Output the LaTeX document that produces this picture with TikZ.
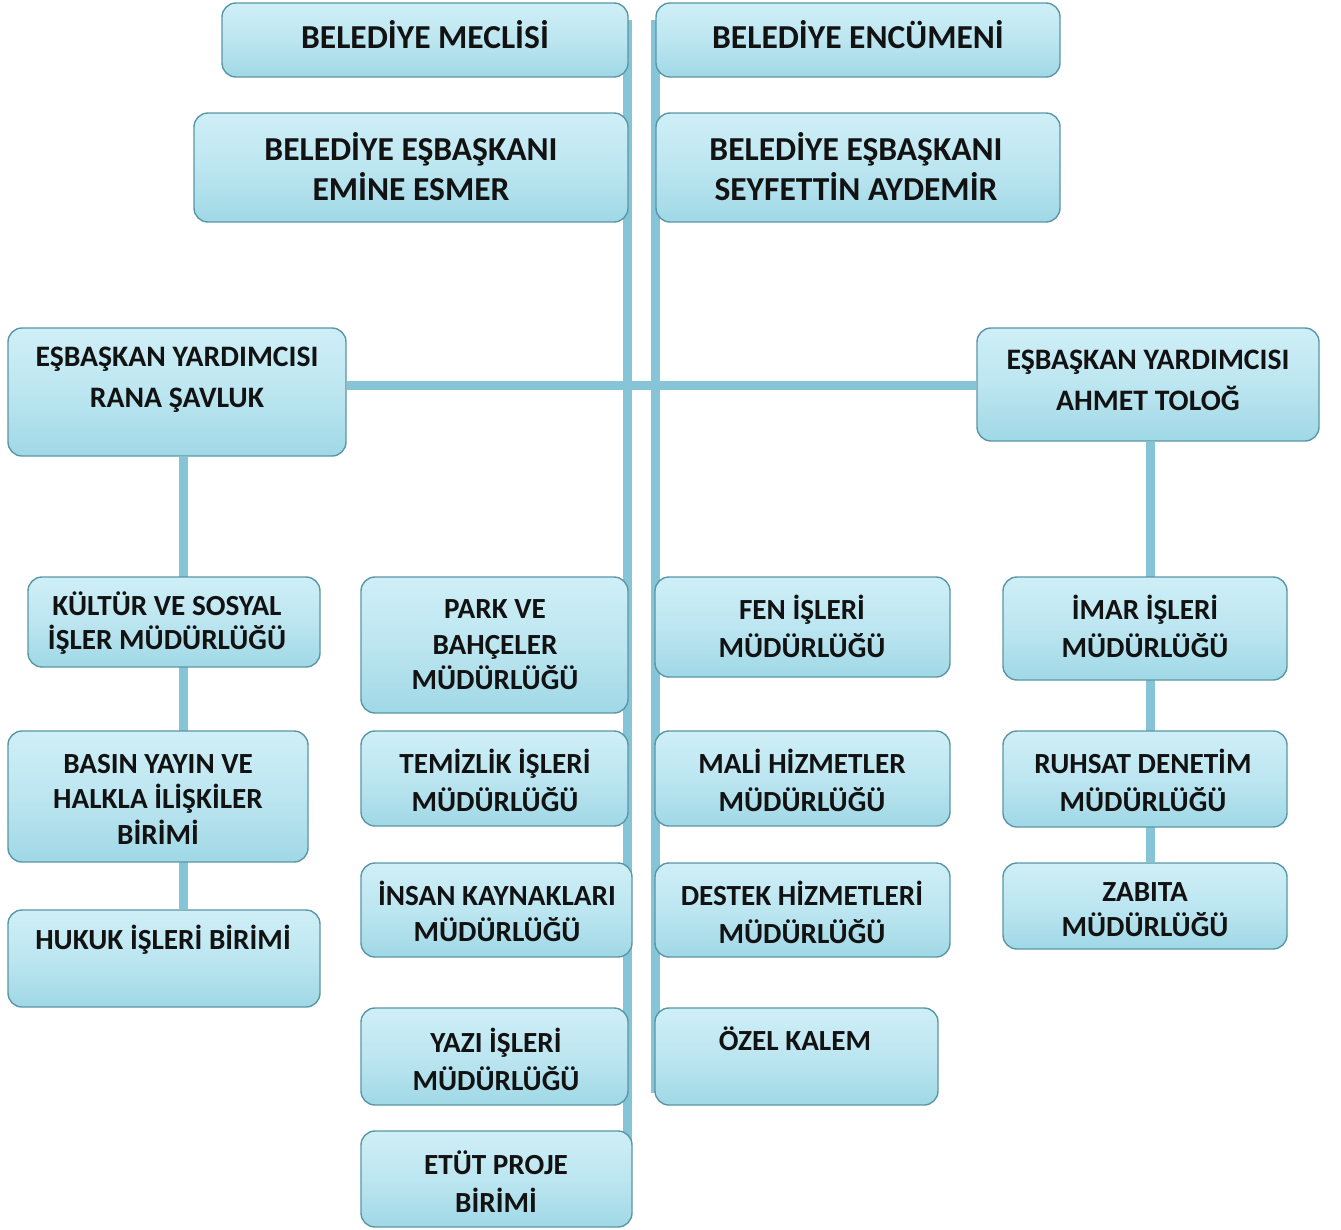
\documentclass[tikz,border=0pt]{standalone}
\usepackage{fontspec}
\setmainfont{Carlito}
\pgfdeclarelayer{bg}
\pgfsetlayers{bg,main}
\definecolor{linec}{HTML}{86C5D8}
\definecolor{boxtop}{HTML}{CFEFF7}
\definecolor{boxbot}{HTML}{A0D8E6}
\definecolor{boxedge}{HTML}{5A96A6}
\definecolor{txtc}{HTML}{121212}
\tikzset{
  box/.style={draw=boxedge, line width=1.4pt, rounded corners=14pt, top color=boxtop, bottom color=boxbot, middle color=boxtop!60!boxbot, inner sep=0pt},
  lbl/.style={text=txtc, align=center, inner sep=0pt, font=\fontsize{29.2}{38}\selectfont\bfseries},
  lblbig/.style={lbl, font=\fontsize{33.5}{40}\selectfont\bfseries},
  lblvp/.style={lbl, font=\fontsize{29.7}{41}\selectfont\bfseries},
  conn/.style={draw=linec, line width=9pt}
}
\begin{document}
\begin{tikzpicture}[x=1pt,y=-1pt]
\useasboundingbox (0,0) rectangle (1341,1229);
% boxes
\node[box, minimum width=406, minimum height=74] (meclis) at (425,40) {};
\node[box, minimum width=404, minimum height=74] (encumen) at (858,40) {};
\node[box, minimum width=434, minimum height=109] (emine) at (411,167.5) {};
\node[box, minimum width=404, minimum height=109] (seyfettin) at (858,167.5) {};
\node[box, minimum width=338, minimum height=128] (rana) at (177,392) {};
\node[box, minimum width=342, minimum height=113] (ahmet) at (1148,384.5) {};
\node[box, minimum width=292, minimum height=90] (kultur) at (174,622) {};
\node[box, minimum width=300, minimum height=131] (basin) at (158,796.5) {};
\node[box, minimum width=312, minimum height=97] (hukuk) at (164,958.5) {};
\node[box, minimum width=267, minimum height=136] (park) at (494.5,645) {};
\node[box, minimum width=267, minimum height=95] (temizlik) at (494.5,778.5) {};
\node[box, minimum width=271, minimum height=94] (insan) at (496.5,910) {};
\node[box, minimum width=267, minimum height=97] (yazi) at (494.5,1056.5) {};
\node[box, minimum width=271, minimum height=96] (etut) at (496.5,1179) {};
\node[box, minimum width=295, minimum height=100] (fen) at (802.5,627) {};
\node[box, minimum width=295, minimum height=95] (mali) at (802.5,778.5) {};
\node[box, minimum width=295, minimum height=94] (destek) at (802.5,910) {};
\node[box, minimum width=283, minimum height=97] (ozel) at (796.5,1056.5) {};
\node[box, minimum width=284, minimum height=103] (imar) at (1145,628.5) {};
\node[box, minimum width=284, minimum height=96] (ruhsat) at (1145,779) {};
\node[box, minimum width=284, minimum height=86] (zabita) at (1145,906) {};
% texts
\node[lblbig] (t-meclis) at (425,35) {BELEDİYE MECLİSİ};
\node[lblbig] (t-encumen) at (858,35) {BELEDİYE ENCÜMENİ};
\node[lblbig] (t-emine) at (411,167) {BELEDİYE EŞBAŞKANI\\EMİNE ESMER};
\node[lblbig] (t-seyfettin) at (856,167) {BELEDİYE EŞBAŞKANI\\SEYFETTİN AYDEMİR};
\node[lblvp] (t-rana) at (177,380) {EŞBAŞKAN YARDIMCISI\\RANA ŞAVLUK};
\node[lblvp] (t-ahmet) at (1148,380) {EŞBAŞKAN YARDIMCISI\\AHMET TOLOĞ};
\node[lbl, font=\fontsize{29.2}{34}\selectfont\bfseries] (t-kultur) at (167,623) {KÜLTÜR VE SOSYAL\\İŞLER MÜDÜRLÜĞÜ};
\node[lbl, font=\fontsize{29.2}{35.5}\selectfont\bfseries] (t-basin) at (158,799) {BASIN YAYIN VE\\HALKLA İLİŞKİLER\\BİRİMİ};
\node[lbl] (t-hukuk) at (163,940) {HUKUK İŞLERİ BİRİMİ};
\node[lbl, font=\fontsize{29.2}{35.5}\selectfont\bfseries] (t-park) at (495,645) {PARK VE\\BAHÇELER\\MÜDÜRLÜĞÜ};
\node[lbl] (t-temizlik) at (495,780) {TEMİZLİK İŞLERİ\\MÜDÜRLÜĞÜ};
\node[lbl, font=\fontsize{29.2}{36}\selectfont\bfseries] (t-insan) at (497,911) {İNSAN KAYNAKLARI\\MÜDÜRLÜĞÜ};
\node[lbl] (t-yazi) at (496,1059) {YAZI İŞLERİ\\MÜDÜRLÜĞÜ};
\node[lbl] (t-etut) at (496,1182) {ETÜT PROJE\\BİRİMİ};
\node[lbl] (t-fen) at (802,626) {FEN İŞLERİ\\MÜDÜRLÜĞÜ};
\node[lbl] (t-mali) at (802,780) {MALİ HİZMETLER\\MÜDÜRLÜĞÜ};
\node[lbl] (t-destek) at (802,912) {DESTEK HİZMETLERİ\\MÜDÜRLÜĞÜ};
\node[lbl] (t-ozel) at (795,1039) {ÖZEL KALEM};
\node[lbl] (t-imar) at (1145,626) {İMAR İŞLERİ\\MÜDÜRLÜĞÜ};
\node[lbl] (t-ruhsat) at (1143,780) {RUHSAT DENETİM\\MÜDÜRLÜĞÜ};
\node[lbl, font=\fontsize{29.2}{35}\selectfont\bfseries] (t-zabita) at (1145,910) {ZABITA\\MÜDÜRLÜĞÜ};
% connector anchors
\coordinate (ltop) at (627.5,20);
\coordinate (lbot) at (627.5,1205);
\coordinate (rtop) at (655.5,20);
\coordinate (rbot) at (655.5,1093);
\coordinate (hmid) at (640,385);
\coordinate (lx) at (183,0);
\coordinate (rx) at (1150,0);
\begin{pgfonlayer}{bg}
\draw[conn] (ltop) -- (lbot);
\draw[conn] (rtop) -- (rbot);
\draw[conn] (rana.east |- hmid) -- (ahmet.west |- hmid);
\draw[conn] (lx |- rana.south) -- (lx |- hukuk.north);
\draw[conn] (rx |- ahmet.south) -- (rx |- zabita.north);
\end{pgfonlayer}
\end{tikzpicture}
\end{document}
